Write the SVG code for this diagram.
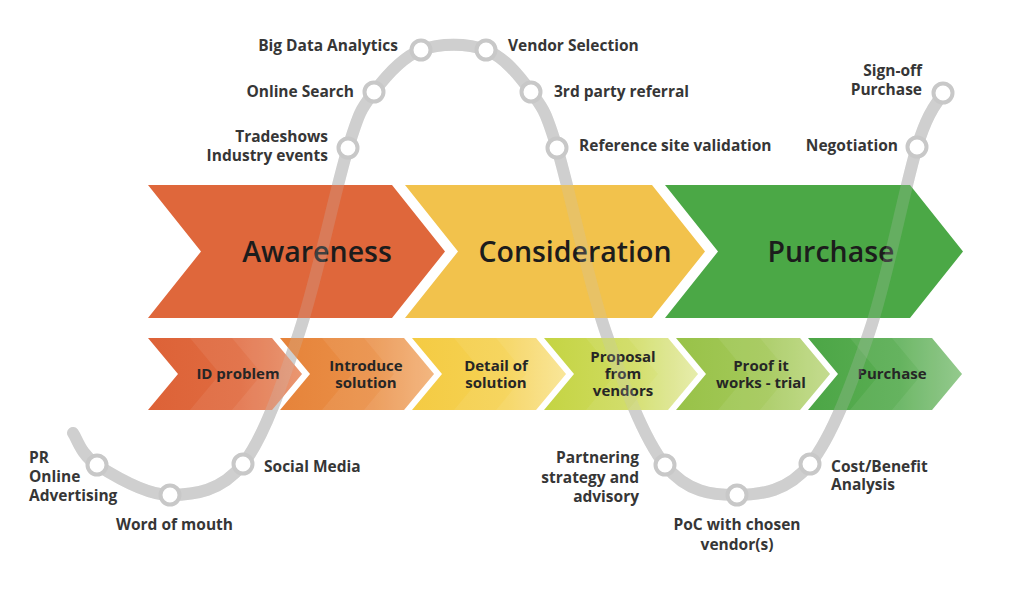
<svg xmlns="http://www.w3.org/2000/svg" width="1024" height="609" viewBox="0 0 1024 609">
<style>
.big{font-family:"Open Sans","Liberation Sans",sans-serif;font-size:28.5px;font-weight:600;fill:#1c1c1c;text-anchor:middle}
.sm{font-family:"Open Sans","Liberation Sans",sans-serif;font-size:15px;font-weight:700;fill:#262626;text-anchor:middle}
.lb{font-family:"Open Sans","Liberation Sans",sans-serif;font-size:15.5px;font-weight:700;fill:#363636}
.e{text-anchor:end}.m{text-anchor:middle}
.stripe{fill:#fff;opacity:0.07}
.track{fill:none;stroke:#d2d2d2;stroke-width:12;stroke-linecap:round;stroke-linejoin:round}
.over{fill:none;stroke:#c4c4c4;stroke-opacity:0.22;stroke-width:12;stroke-linecap:round}
.st{fill:#fff;stroke:#c8c8c8;stroke-width:4}
</style>
<defs>
<linearGradient id="g1" x1="0" y1="0" x2="1" y2="0"><stop offset="0" stop-color="#DD6237"/><stop offset="0.6" stop-color="#E06B40"/><stop offset="1" stop-color="#E8875C"/></linearGradient>
<linearGradient id="g2" x1="0" y1="0" x2="1" y2="0"><stop offset="0" stop-color="#E6833A"/><stop offset="0.6" stop-color="#EA9047"/><stop offset="1" stop-color="#F1AC6E"/></linearGradient>
<linearGradient id="g3" x1="0" y1="0" x2="1" y2="0"><stop offset="0" stop-color="#F4CB43"/><stop offset="0.6" stop-color="#F6D253"/><stop offset="1" stop-color="#F9E28A"/></linearGradient>
<linearGradient id="g4" x1="0" y1="0" x2="1" y2="0"><stop offset="0" stop-color="#C4D443"/><stop offset="0.6" stop-color="#D0DC62"/><stop offset="1" stop-color="#E3EBA0"/></linearGradient>
<linearGradient id="g5" x1="0" y1="0" x2="1" y2="0"><stop offset="0" stop-color="#98C248"/><stop offset="0.6" stop-color="#A4C95A"/><stop offset="1" stop-color="#BCD77E"/></linearGradient>
<linearGradient id="g6" x1="0" y1="0" x2="1" y2="0"><stop offset="0" stop-color="#4CA646"/><stop offset="0.6" stop-color="#5AAE53"/><stop offset="1" stop-color="#84C27C"/></linearGradient>
<path id="trackpath" d="M73,433 C77,438.3 80.8,454.7 97,465 C113.2,475.3 145.7,495.2 170,495 C194.3,494.8 221.3,491.5 243,464 C264.7,436.5 282.5,382.7 300,330 C317.5,277.3 335.7,187.7 348,148 C360.3,108.3 361.8,108.3 374,92 C386.2,75.7 402.3,57 421,50 C439.7,43 467.7,43 486,50 C504.3,57 519.2,75.7 531,92 C542.8,108.3 544.7,108.3 557,148 C569.3,187.7 587,277.2 605,330 C623,382.8 643,437.5 665,465 C687,492.5 712.8,495.2 737,495 C761.2,494.8 787.8,491.5 810,464 C832.2,436.5 852.2,382.8 870,330 C887.8,277.2 904.8,186.5 917,147 C929.2,107.5 938.7,102 943,93"/>
</defs>
<rect width="1024" height="609" fill="#fff"/>

<g id="connectors">
<use href="#trackpath" class="track"/>
</g>

<g id="awareness">
<polygon points="148,185 392,185 445,251.5 392,318 148,318 201,251.5" fill="#DF673B"/>
<text class="big" x="317" y="262">Awareness</text>
</g>
<g id="consideration">
<polygon points="405,185 652,185 705,251.5 652,318 405,318 458,251.5" fill="#F2C24C"/>
<text class="big" x="575" y="262">Consideration</text>
</g>
<g id="purchase-stage">
<polygon points="665,185 910,185 963,251.5 910,318 665,318 718,251.5" fill="#4BA846"/>
<text class="big" x="831" y="262">Purchase</text>
</g>

<g id="id-problem">
<polygon points="148,338 272,338 302,374 272,410 148,410 178,374" fill="url(#g1)"/>
<polygon class="stripe" points="190,338 272,338 302,374 272,410 190,410 220,374"/>
<polygon class="stripe" points="232,338 272,338 302,374 272,410 232,410 262,374"/>
<text class="sm" x="238" y="379">ID problem</text>
</g>
<g id="introduce-solution">
<polygon points="280,338 404,338 434,374 404,410 280,410 310,374" fill="url(#g2)"/>
<polygon class="stripe" points="322,338 404,338 434,374 404,410 322,410 352,374"/>
<polygon class="stripe" points="364,338 404,338 434,374 404,410 364,410 394,374"/>
<text class="sm" x="366" y="371">Introduce</text>
<text class="sm" x="366" y="388">solution</text>
</g>
<g id="detail-of-solution">
<polygon points="412,338 536,338 566,374 536,410 412,410 442,374" fill="url(#g3)"/>
<polygon class="stripe" points="454,338 536,338 566,374 536,410 454,410 484,374"/>
<polygon class="stripe" points="496,338 536,338 566,374 536,410 496,410 526,374"/>
<text class="sm" x="496" y="371">Detail of</text>
<text class="sm" x="496" y="388">solution</text>
</g>
<g id="proposal-from-vendors">
<polygon points="544,338 668,338 698,374 668,410 544,410 574,374" fill="url(#g4)"/>
<polygon class="stripe" points="586,338 668,338 698,374 668,410 586,410 616,374"/>
<polygon class="stripe" points="628,338 668,338 698,374 668,410 628,410 658,374"/>
<text class="sm" x="623" y="362">Proposal</text>
<text class="sm" x="623" y="379">from</text>
<text class="sm" x="623" y="396">vendors</text>
</g>
<g id="proof-it-works">
<polygon points="676,338 800,338 830,374 800,410 676,410 706,374" fill="url(#g5)"/>
<polygon class="stripe" points="718,338 800,338 830,374 800,410 718,410 748,374"/>
<polygon class="stripe" points="760,338 800,338 830,374 800,410 760,410 790,374"/>
<text class="sm" x="761" y="371">Proof it</text>
<text class="sm" x="761" y="388">works - trial</text>
</g>
<g id="purchase-step">
<polygon points="808,338 932,338 962,374 932,410 808,410 838,374" fill="url(#g6)"/>
<polygon class="stripe" points="850,338 932,338 962,374 932,410 850,410 880,374"/>
<polygon class="stripe" points="892,338 932,338 962,374 932,410 892,410 922,374"/>
<text class="sm" x="892" y="379">Purchase</text>
</g>

<g id="connectors-overlay">
<use href="#trackpath" class="over"/>
</g>

<g id="pr-online-advertising"><circle class="st" cx="97" cy="465" r="9.5"/>
<text class="lb" x="29" y="463">PR</text><text class="lb" x="29" y="482">Online</text><text class="lb" x="29" y="501">Advertising</text></g>
<g id="word-of-mouth"><circle class="st" cx="170" cy="495" r="9.5"/>
<text class="lb" x="116" y="530">Word of mouth</text></g>
<g id="social-media"><circle class="st" cx="243" cy="464" r="9.5"/>
<text class="lb" x="264" y="472">Social Media</text></g>
<g id="tradeshows"><circle class="st" cx="348" cy="148" r="9.5"/>
<text class="lb e" x="328" y="142">Tradeshows</text><text class="lb e" x="328" y="161">Industry events</text></g>
<g id="online-search"><circle class="st" cx="374" cy="92" r="9.5"/>
<text class="lb e" x="354" y="97">Online Search</text></g>
<g id="big-data-analytics"><circle class="st" cx="421" cy="50" r="9.5"/>
<text class="lb e" x="398" y="51">Big Data Analytics</text></g>
<g id="vendor-selection"><circle class="st" cx="486" cy="50" r="9.5"/>
<text class="lb" x="508" y="51">Vendor Selection</text></g>
<g id="third-party-referral"><circle class="st" cx="531" cy="92" r="9.5"/>
<text class="lb" x="554" y="97">3rd party referral</text></g>
<g id="reference-site-validation"><circle class="st" cx="557" cy="148" r="9.5"/>
<text class="lb" x="579" y="151">Reference site validation</text></g>
<g id="partnering"><circle class="st" cx="665" cy="465" r="9.5"/>
<text class="lb e" x="639" y="463">Partnering</text><text class="lb e" x="639" y="483">strategy and</text><text class="lb e" x="639" y="502">advisory</text></g>
<g id="poc"><circle class="st" cx="737" cy="495" r="9.5"/>
<text class="lb m" x="737" y="530">PoC with chosen</text><text class="lb m" x="737" y="550">vendor(s)</text></g>
<g id="cost-benefit"><circle class="st" cx="810" cy="464" r="9.5"/>
<text class="lb" x="831" y="472">Cost/Benefit</text><text class="lb" x="831" y="490">Analysis</text></g>
<g id="negotiation"><circle class="st" cx="917" cy="147" r="9.5"/>
<text class="lb e" x="898" y="151">Negotiation</text></g>
<g id="sign-off"><circle class="st" cx="943" cy="93" r="9.5"/>
<text class="lb e" x="922" y="76">Sign-off</text><text class="lb e" x="922" y="95">Purchase</text></g>
</svg>
